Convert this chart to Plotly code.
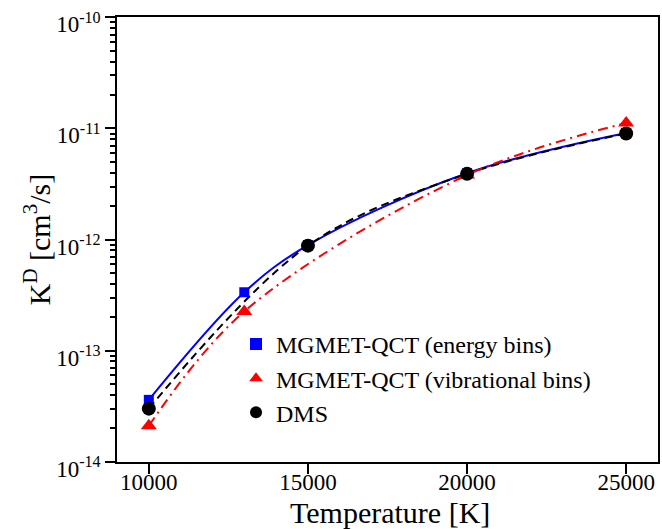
import plotly.graph_objects as go

# Data
T_energy = [10000, 13000, 15000, 20000, 25000]
K_energy = [3.6e-14, 3.35e-13, 8.9e-13, 3.95e-12, 9.1e-12]

T_vib = [10000, 13000, 20000, 25000]
K_vib = [2.1e-14, 2.25e-13, 3.8e-12, 1.12e-11]

T_dms = [10000, 15000, 20000, 25000]
K_dms = [3.0e-14, 8.8e-13, 3.9e-12, 9.0e-12]

x_ticks = [10000, 15000, 20000, 25000]
y_ticks = [1e-14, 1e-13, 1e-12, 1e-11, 1e-10]
y_ticktext = ["10<sup>-14</sup>", "10<sup>-13</sup>", "10<sup>-12</sup>", "10<sup>-11</sup>", "10<sup>-10</sup>"]

FONT = "Liberation Serif"

fig = go.Figure()

# fit-like smooth lines
fig.add_trace(go.Scatter(x=T_energy, y=K_energy, mode="lines",
                         line=dict(color="#0000ff", width=2, shape="spline", smoothing=1.0),
                         showlegend=False, hoverinfo="skip"))
fig.add_trace(go.Scatter(x=T_dms, y=K_dms, mode="lines",
                         line=dict(color="black", width=2, dash="8px,5px", shape="spline", smoothing=1.0),
                         showlegend=False, hoverinfo="skip"))
fig.add_trace(go.Scatter(x=T_vib, y=K_vib, mode="lines",
                         line=dict(color="#ff0000", width=2, dash="10px,5px,2px,5px", shape="spline", smoothing=1.0),
                         showlegend=False, hoverinfo="skip"))

# markers
fig.add_trace(go.Scatter(x=T_energy, y=K_energy, mode="markers", name="MGMET-QCT (energy bins)",
                         marker=dict(symbol="square", color="#0000ff", size=10)))
fig.add_trace(go.Scatter(x=T_vib, y=K_vib, mode="markers", name="MGMET-QCT (vibrational bins)",
                         marker=dict(symbol="triangle-up", color="#ff0000", size=14)))
fig.add_trace(go.Scatter(x=T_dms, y=K_dms, mode="markers", name="DMS",
                         marker=dict(symbol="circle", color="black", size=14)))

fig.update_layout(
    width=662, height=529,
    margin=dict(l=117, r=2, t=17, b=67),
    paper_bgcolor="white", plot_bgcolor="white",
    font=dict(family=FONT, color="black", size=23),
    legend=dict(x=0.22, y=0.315, xanchor="left", yanchor="top", bgcolor="rgba(0,0,0,0)",
                font=dict(family=FONT, size=24, color="black"), tracegroupgap=0, itemsizing="constant",
                itemwidth=30),
    annotations=[
        dict(text="Temperature [K]", xref="paper", yref="paper",
             x=(391 - 117) / 543, y=(462 - 512) / 445, xanchor="center", yanchor="middle",
             showarrow=False, font=dict(family=FONT, size=30, color="black")),
        dict(text="K<sup>D</sup> [cm<sup>3</sup>/s]", xref="paper", yref="paper",
             x=(37 - 117) / 543, y=(462 - 240) / 445, xanchor="center", yanchor="middle",
             textangle=-90, showarrow=False, font=dict(family=FONT, size=30, color="black")),
    ],
)

fig.update_xaxes(
    range=[9000, 26000], tickvals=x_ticks, ticktext=[str(v) for v in x_ticks],
    ticks="outside", ticklen=10, tickwidth=1.5, tickcolor="black",
    showline=True, linecolor="black", linewidth=1.5, mirror=True,
    showgrid=False, zeroline=False, ticklabelstandoff=-11,
    tickfont=dict(family=FONT, size=23, color="black"),
)
fig.update_yaxes(
    type="log", range=[-14.003, -9.997], tickvals=y_ticks, ticktext=y_ticktext,
    ticks="outside", ticklen=10, tickwidth=1.5, tickcolor="black",
    minor=dict(ticks="outside", ticklen=5, tickwidth=1.5, tickcolor="black", dtick="D1", showgrid=False),
    showline=True, linecolor="black", linewidth=1.5, mirror=True,
    showgrid=False, zeroline=False, ticklabelshift=7, ticklabeloverflow="allow",
    tickfont=dict(family=FONT, size=23, color="black"),
)

fig.write_html("out.html")
